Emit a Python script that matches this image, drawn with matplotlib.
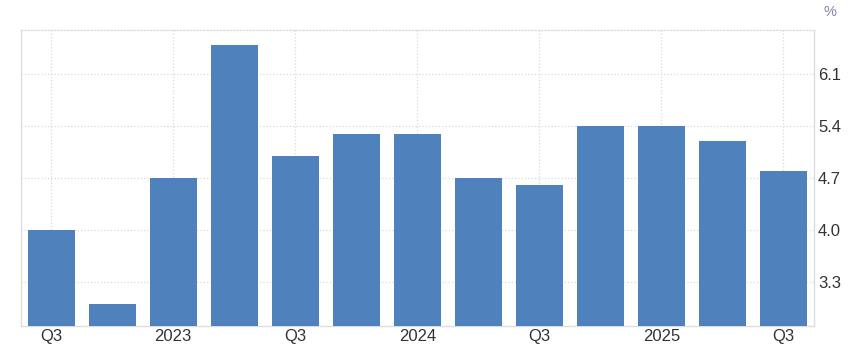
import numpy as np
import matplotlib
matplotlib.use("Agg")
import matplotlib.pyplot as plt

plt.rcParams['font.family'] = ['Liberation Sans', 'DejaVu Sans']

# quarterly values, 2022 Q3 .. 2025 Q3
quarters = ["2022Q3", "2022Q4", "2023Q1", "2023Q2", "2023Q3", "2023Q4", "2024Q1",
            "2024Q2", "2024Q3", "2024Q4", "2025Q1", "2025Q2", "2025Q3"]
values = [4.0, 3.0, 4.7, 6.5, 5.0, 5.3, 5.3, 4.7, 4.6, 5.4, 5.4, 5.2, 4.8]
xtick_labels = ["Q3", "2023", "Q3", "2024", "Q3", "2025", "Q3"]
xtick_idx = [0, 2, 4, 6, 8, 10, 12]
yticks = [3.3, 4.0, 4.7, 5.4, 6.1]

fig = plt.figure(figsize=(8.5, 3.54), dpi=100)
ax = fig.add_axes([0.0244, 0.079, 0.933, 0.836])

x = np.arange(len(values))
ax.bar(x, values, width=0.77, color="#4f81bd", zorder=3)

ax.set_xlim(-0.5, len(values) - 0.5)
ax.set_ylim(2.7, 6.7)

ax.set_xticks(xtick_idx)
ax.set_xticklabels(xtick_labels)
ax.set_yticks(yticks)
ax.set_yticklabels([f"{v:.1f}" for v in yticks])
ax.yaxis.tick_right()
ax.tick_params(axis='both', length=0, labelsize=12, labelcolor="#333333")
ax.tick_params(axis='y', pad=3)
ax.tick_params(axis='x', pad=2)

ax.grid(True, linestyle=':', color="#d9d9d9", linewidth=0.9, zorder=0)

for side in ["left", "bottom", "right"]:
    ax.spines[side].set_color("#dddddd")
    ax.spines[side].set_linewidth(1.0)
ax.spines["top"].set_color("#d9d9d9")
ax.spines["top"].set_linestyle(":")
ax.spines["top"].set_linewidth(0.9)

fig.text(0.976, 0.965, "%", ha="center", va="center", fontsize=10.5, color="#7f86a0")

fig.savefig("out.png", dpi=100)
